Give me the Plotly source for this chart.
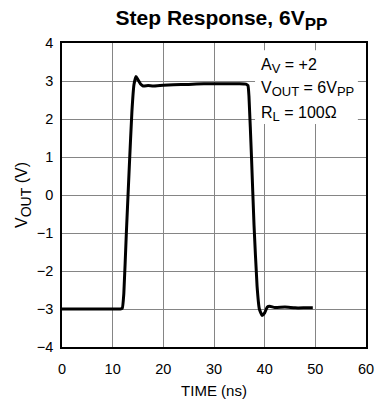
import plotly.graph_objects as go

time_ns = [0, 5, 10, 11.5, 11.9, 12.2, 12.7, 13.3, 13.8, 14.2, 14.6, 15.0, 15.5, 16.0, 17, 18, 20, 22, 25, 28, 30, 33, 35, 36.3, 36.7, 36.9, 37.4, 37.9, 38.5, 38.95, 39.5, 40.0, 40.5, 41.0, 42, 44, 46, 48, 49.5]
vout = [-3.0, -3.0, -3.0, -3.0, -2.98, -2.6, -1.0, 0.8, 2.2, 2.9, 3.12, 3.03, 2.92, 2.87, 2.88, 2.87, 2.89, 2.9, 2.91, 2.93, 2.93, 2.93, 2.93, 2.92, 2.88, 2.6, 1.0, -0.8, -2.4, -3.0, -3.17, -3.1, -2.95, -2.93, -2.96, -2.95, -2.97, -2.97, -2.97]

x_ticks = [0, 10, 20, 30, 40, 50, 60]
y_ticks = [4, 3, 2, 1, 0, -1, -2, -3, -4]

def sub(s, size):
    return "<sub><span style='font-size:%spx'>%s</span></sub>" % (size, s)

notes = ["A" + sub("V", 13) + " = +2",
         "V" + sub("OUT", 13) + " = 6V" + sub("PP", 13),
         "R" + sub("L", 13) + " = 100Ω"]
note_y = [3.4, 2.79, 2.13]

FONT = "Liberation Sans, Arial"

fig = go.Figure()
fig.add_trace(go.Scatter(x=time_ns, y=vout, mode="lines",
                         line=dict(color="black", width=3, shape="spline", smoothing=0.4),
                         hoverinfo="skip", showlegend=False))

fig.add_shape(type="rect", xref="x", yref="y", x0=38.1, x1=58.4, y0=1.87, y1=3.81,
              fillcolor="white", line=dict(width=0), layer="above")

for t, yy in zip(notes, note_y):
    fig.add_annotation(x=38.9, y=yy, xref="x", yref="y", text=t, showarrow=False,
                       xanchor="left", yanchor="middle",
                       font=dict(family=FONT, size=16, color="black"))

axis_common = dict(showline=True, linecolor="black", linewidth=1.5, mirror=True,
                   showgrid=True, gridcolor="#858585", gridwidth=1, zeroline=False,
                   ticks="", automargin=False,
                   tickfont=dict(family=FONT, size=14.5, color="black"))

fig.update_xaxes(range=[0, 60], tickvals=x_ticks, title_text="TIME (ns)",
                 ticklabelstandoff=8, title_standoff=9,
                 title_font=dict(family=FONT, size=15, color="black"), **axis_common)
fig.update_yaxes(range=[-4, 4], tickvals=y_ticks, title_text="V" + sub("OUT", 14) + " (V)",
                 ticklabelstandoff=4, title_standoff=5,
                 title_font=dict(family=FONT, size=16, color="black"), **axis_common)

fig.update_layout(
    width=376, height=401,
    margin=dict(l=62, r=10, t=43, b=54),
    paper_bgcolor="white", plot_bgcolor="white",
    title=dict(text="<b>Step Response, 6V" + sub("PP", 17) + "</b>", x=0.589, xanchor="center",
               y=0.955, yanchor="middle",
               font=dict(family=FONT, size=21, color="black")),
)

fig.write_html("out.html")
